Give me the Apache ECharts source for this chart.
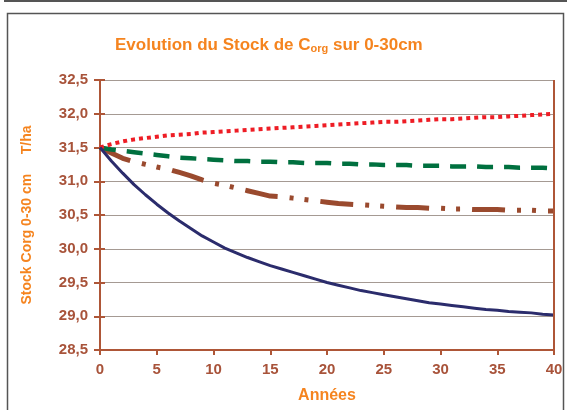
<!DOCTYPE html>
<html>
<head>
<meta charset="utf-8">
<script src="https://cdn.jsdelivr.net/npm/echarts@6/dist/echarts.min.js"></script>
<style>
  html, body { margin: 0; padding: 0; background: #fff; }
  #chart { width: 567px; height: 410px; }
</style>
</head>
<body>
<div id="chart"></div>
<script>
// années 0..40
var years = [];
for (var i = 0; i <= 40; i++) years.push(i);

// valeurs (T/ha)
var stockRouge = [31.50, 31.55, 31.59, 31.62, 31.64, 31.66, 31.68, 31.69, 31.70, 31.72,
  31.73, 31.74, 31.75, 31.76, 31.77, 31.78, 31.79, 31.80, 31.81, 31.82,
  31.83, 31.84, 31.85, 31.86, 31.87, 31.88, 31.88, 31.89, 31.90, 31.91,
  31.92, 31.92, 31.93, 31.94, 31.95, 31.95, 31.96, 31.97, 31.98, 31.99, 32.00];
var stockVert = [31.50, 31.47, 31.45, 31.43, 31.41, 31.39, 31.37, 31.35, 31.34, 31.33,
  31.32, 31.31, 31.30, 31.30, 31.29, 31.29, 31.28, 31.28, 31.27, 31.27,
  31.27, 31.26, 31.26, 31.25, 31.25, 31.24, 31.24, 31.24, 31.23, 31.23,
  31.23, 31.22, 31.22, 31.22, 31.21, 31.21, 31.21, 31.20, 31.20, 31.20, 31.19];
var stockMarron = [31.50, 31.42, 31.34, 31.29, 31.25, 31.21, 31.18, 31.13, 31.08, 31.02,
  30.97, 30.94, 30.90, 30.86, 30.82, 30.78, 30.77, 30.75, 30.73, 30.71,
  30.69, 30.67, 30.66, 30.65, 30.64, 30.63, 30.62, 30.61, 30.61, 30.60,
  30.60, 30.59, 30.59, 30.58, 30.58, 30.58, 30.57, 30.57, 30.57, 30.56, 30.56];
var stockBleu = [31.50, 31.30, 31.12, 30.95, 30.80, 30.66, 30.53, 30.41, 30.30, 30.19,
  30.10, 30.01, 29.94, 29.87, 29.81, 29.75, 29.70, 29.65, 29.60, 29.55,
  29.50, 29.46, 29.42, 29.38, 29.35, 29.32, 29.29, 29.26, 29.23, 29.20,
  29.18, 29.16, 29.14, 29.12, 29.10, 29.09, 29.07, 29.06, 29.05, 29.03, 29.02];

var orange = '#F5841F';
var brun = '#AE5637';
var police = '"Liberation Sans", Arial, sans-serif';

function pairs(vals) {
  var out = [];
  for (var i = 0; i < years.length; i++) out.push([years[i], vals[i]]);
  return out;
}

function serie(vals, color, width, type) {
  return {
    type: 'line',
    data: pairs(vals),
    symbol: 'none',
    smooth: false,
    animation: false,
    lineStyle: { color: color, width: width, type: type, cap: 'butt' }
  };
}

var chart = echarts.init(document.getElementById('chart'), null, { renderer: 'canvas' });

var series = [
  serie(stockMarron, '#9A4A2E', 5, [33, 12, 4, 11, 4, 12]),
  serie(stockVert, '#00703F', 4.5, [16, 11]),
  serie(stockRouge, '#EE1D25', 4, [4, 4]),
  serie(stockBleu, '#2B2C6C', 3, 'solid')
];
// bord droit de la zone de tracé
series[0].markLine = {
  silent: true,
  symbol: 'none',
  label: { show: false },
  animation: false,
  lineStyle: { color: brun, width: 2, type: 'solid' },
  data: [{ xAxis: 40 }]
};

var option = {
  backgroundColor: '#fff',
  animation: false,
  title: {
    left: 110,
    top: 29,
    text: '{a|Evolution du Stock de C}{s|org}{a| sur 0-30cm}',
    textStyle: {
      rich: {
        a: { fontFamily: police, fontWeight: 'bold', fontSize: 17, color: orange, lineHeight: 20, verticalAlign: 'bottom' },
        s: { fontFamily: police, fontWeight: 'bold', fontSize: 11, color: orange, lineHeight: 16, verticalAlign: 'bottom' }
      }
    }
  },
  grid: { left: 100, right: 13, top: 80, bottom: 60, containLabel: false },
  xAxis: {
    type: 'value',
    min: 0,
    max: 40,
    interval: 5,
    name: 'Années',
    nameLocation: 'middle',
    nameGap: 38,
    nameTextStyle: { fontFamily: police, fontWeight: 'bold', fontSize: 16, color: orange },
    axisLine: { lineStyle: { color: brun, width: 2 } },
    axisTick: { show: true, length: 5, lineStyle: { color: brun, width: 2 } },
    axisLabel: { margin: 12, fontFamily: police, fontWeight: 'bold', fontSize: 15, color: '#A8533A' },
    splitLine: { show: false }
  },
  yAxis: [{
    type: 'value',
    min: 28.5,
    max: 32.5,
    interval: 0.5,
    name: 'Stock Corg 0-30 cm     T/ha',
    nameLocation: 'middle',
    nameGap: 66,
    nameTextStyle: { fontFamily: police, fontWeight: 'bold', fontSize: 14, color: orange },
    axisLine: { show: true, lineStyle: { color: brun, width: 2 } },
    axisTick: { show: true, length: 6, lineStyle: { color: brun, width: 2 } },
    axisLabel: {
      margin: 12, fontFamily: police, fontWeight: 'bold', fontSize: 15, color: '#A8533A',
      formatter: function (v) { return v.toFixed(1).replace('.', ','); }
    },
    splitLine: { show: true, lineStyle: { color: '#A59A93', width: 1 } }
  }, {
    // partie intérieure des graduations en croix, placée sur l'axe gauche
    type: 'value',
    position: 'right',
    offset: -454,
    min: 28.5,
    max: 32.5,
    interval: 0.5,
    axisLine: { show: false },
    axisTick: { show: true, length: 5, lineStyle: { color: brun, width: 2 } },
    axisLabel: { show: false },
    splitLine: { show: false }
  }],
  series: series,
  graphic: [
    { type: 'line', shape: { x1: 4, y1: 1, x2: 567, y2: 1 }, style: { stroke: '#555', lineWidth: 2 } },
    { type: 'rect', shape: { x: 7.5, y: 13.5, width: 556, height: 420 }, style: { fill: null, stroke: '#555', lineWidth: 1.5 } }
  ]
};

chart.setOption(option);
</script>
</body>
</html>
